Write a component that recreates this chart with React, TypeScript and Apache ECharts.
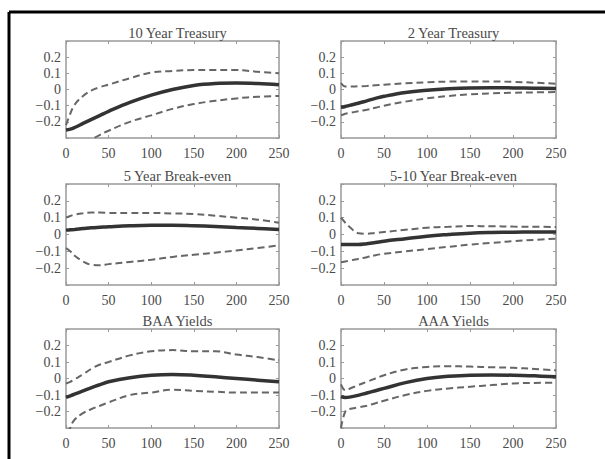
import React, { useEffect, useRef } from "react";
import * as echarts from "echarts";

const X = [0, 5, 10, 20, 30, 40, 50, 75, 100, 125, 150, 175, 200, 225, 250];
const xTicks = [0, 50, 100, 150, 200, 250];
const yTicks = [-0.2, -0.1, 0, 0.1, 0.2];

const titles = ["10 Year Treasury", "2 Year Treasury", "5 Year Break-even", "5-10 Year Break-even", "BAA Yields", "AAA Yields"];

const t10Mid = [-0.25, -0.245, -0.235, -0.21, -0.185, -0.16, -0.135, -0.08, -0.035, 0.0, 0.025, 0.037, 0.04, 0.037, 0.03];
const t10Up = [-0.22, -0.15, -0.095, -0.04, -0.005, 0.015, 0.03, 0.07, 0.105, 0.115, 0.12, 0.12, 0.12, 0.11, 0.1];
const t10Lo = [-0.5, -0.45, -0.41, -0.35, -0.31, -0.28, -0.255, -0.2, -0.16, -0.12, -0.09, -0.07, -0.055, -0.045, -0.04];

const t2Mid = [-0.11, -0.105, -0.098, -0.085, -0.07, -0.055, -0.042, -0.018, -0.004, 0.005, 0.01, 0.011, 0.01, 0.008, 0.006];
const t2Up = [0.04, 0.018, 0.018, 0.02, 0.022, 0.026, 0.03, 0.038, 0.045, 0.049, 0.05, 0.05, 0.047, 0.042, 0.036];
const t2Lo = [-0.16, -0.15, -0.145, -0.135, -0.125, -0.113, -0.1, -0.075, -0.055, -0.04, -0.03, -0.024, -0.02, -0.018, -0.016];

const be5Mid = [0.026, 0.028, 0.03, 0.035, 0.04, 0.043, 0.046, 0.052, 0.055, 0.055, 0.052, 0.048, 0.042, 0.036, 0.03];
const be5Up = [0.1, 0.11, 0.118, 0.126, 0.13, 0.13, 0.128, 0.128, 0.128, 0.125, 0.122, 0.112, 0.1, 0.088, 0.07];
const be5Lo = [-0.08, -0.1, -0.125, -0.16, -0.18, -0.183, -0.176, -0.163, -0.15, -0.133, -0.12, -0.108, -0.095, -0.08, -0.065];

const be510Mid = [-0.06, -0.06, -0.06, -0.06, -0.055, -0.048, -0.04, -0.025, -0.01, 0.0, 0.008, 0.012, 0.014, 0.015, 0.015];
const be510Up = [0.1, 0.07, 0.045, 0.008, 0.005, 0.01, 0.015, 0.028, 0.04, 0.046, 0.05, 0.049, 0.047, 0.046, 0.045];
const be510Lo = [-0.165, -0.16, -0.155, -0.145, -0.135, -0.123, -0.115, -0.1, -0.087, -0.073, -0.06, -0.05, -0.04, -0.032, -0.025];

const baaMid = [-0.115, -0.105, -0.095, -0.075, -0.055, -0.037, -0.02, 0.005, 0.02, 0.025, 0.02, 0.01, 0.0, -0.01, -0.02];
const baaUp = [-0.03, -0.02, -0.005, 0.025, 0.06, 0.085, 0.1, 0.14, 0.165, 0.172, 0.165, 0.165, 0.145, 0.13, 0.11];
const baaLo = [-0.4, -0.3, -0.25, -0.21, -0.185, -0.165, -0.145, -0.1, -0.085, -0.068, -0.075, -0.08, -0.085, -0.085, -0.085];

const aaaMid = [-0.11, -0.115, -0.113, -0.102, -0.088, -0.074, -0.06, -0.025, 0.0, 0.013, 0.02, 0.021, 0.02, 0.016, 0.01];
const aaaUp = [-0.035, -0.07, -0.062, -0.04, -0.02, 0.0, 0.02, 0.055, 0.07, 0.075, 0.072, 0.068, 0.065, 0.058, 0.05];
const aaaLo = [-0.3, -0.2, -0.185, -0.175, -0.165, -0.15, -0.135, -0.1, -0.075, -0.06, -0.05, -0.04, -0.03, -0.027, -0.025];

const panels = [
  { title: titles[0], mid: t10Mid, up: t10Up, lo: t10Lo },
  { title: titles[1], mid: t2Mid, up: t2Up, lo: t2Lo },
  { title: titles[2], mid: be5Mid, up: be5Up, lo: be5Lo },
  { title: titles[3], mid: be510Mid, up: be510Up, lo: be510Lo },
  { title: titles[4], mid: baaMid, up: baaUp, lo: baaLo },
  { title: titles[5], mid: aaaMid, up: aaaUp, lo: aaaLo },
];

const FONT = "Liberation Serif";
const TXT = "#4a4a4a";
const BOX = "#999";

const colLeft = [66, 341];
const colWidth = [213, 215];
const rowTop = [41, 184, 329];
const rowHeight = [97, 101, 99];

export default function App() {
  const ref = useRef<HTMLDivElement>(null);
  useEffect(() => {
    if (!ref.current) return;
    const chart = echarts.init(ref.current, null, { renderer: "svg" });
    const grids: any[] = [];
    const xAxes: any[] = [];
    const yAxes: any[] = [];
    const series: any[] = [];
    const titleArr: any[] = [];
    panels.forEach((p, i) => {
      const c = i % 2;
      const r = Math.floor(i / 2);
      grids.push({
        left: colLeft[c],
        top: rowTop[r],
        width: colWidth[c],
        height: rowHeight[r],
        show: true,
        borderColor: BOX,
        borderWidth: 1.5,
        backgroundColor: "#fff",
      });
      titleArr.push({
        text: p.title,
        left: colLeft[c] + colWidth[c] / 2,
        top: rowTop[r] - 21,
        textAlign: "center",
        textStyle: { fontFamily: FONT, fontSize: 14.5, fontWeight: "normal", color: TXT },
      });
      const tick = { show: true, inside: true, length: 3, lineStyle: { color: BOX } };
      const line = { show: false, onZero: false };
      xAxes.push({
        type: "value", gridIndex: i, min: 0, max: 250, interval: 50, position: "bottom",
        axisLine: line, splitLine: { show: false }, axisTick: tick,
        axisLabel: {
          fontFamily: FONT, fontSize: 14, color: TXT, margin: 8,
          formatter: (v: number) => (xTicks.includes(v) ? String(v) : ""),
        },
      });
      xAxes.push({
        type: "value", gridIndex: i, min: 0, max: 250, interval: 50, position: "top",
        axisLine: line, splitLine: { show: false }, axisTick: tick, axisLabel: { show: false },
      });
      yAxes.push({
        type: "value", gridIndex: i, min: -0.3, max: 0.3, interval: 0.1, position: "left",
        axisLine: line, splitLine: { show: false }, axisTick: tick,
        axisLabel: {
          fontFamily: FONT, fontSize: 14, color: TXT, margin: 5,
          formatter: (v: number) => {
            const rv = Math.round(v * 10) / 10;
            if (!yTicks.some((t) => Math.abs(t - rv) < 1e-9)) return "";
            if (rv === 0) return "0";
            return rv < 0 ? "\u2212" + String(Math.abs(rv)) : String(rv);
          },
        },
      });
      yAxes.push({
        type: "value", gridIndex: i, min: -0.3, max: 0.3, interval: 0.1, position: "right",
        axisLine: line, splitLine: { show: false }, axisTick: tick, axisLabel: { show: false },
      });
      const mk = (arr: number[]) => X.map((x, k) => [x, arr[k]]);
      const base = { type: "line", xAxisIndex: i * 2, yAxisIndex: i * 2, showSymbol: false, symbol: "none", smooth: 0.4, clip: true };
      series.push({ ...base, data: mk(p.up), lineStyle: { color: "#666", width: 2, type: [7, 4] } });
      series.push({ ...base, data: mk(p.lo), lineStyle: { color: "#666", width: 2, type: [7, 4] } });
      series.push({ ...base, data: mk(p.mid), lineStyle: { color: "#333", width: 3.5 } });
    });
    chart.setOption({
      animation: false,
      backgroundColor: "#fff",
      title: titleArr,
      grid: grids,
      xAxis: xAxes,
      yAxis: yAxes,
      series,
      graphic: [
        { type: "line", shape: { x1: 9, y1: 12, x2: 605, y2: 12 }, style: { stroke: "#000", lineWidth: 3 } },
        { type: "line", shape: { x1: 9, y1: 12, x2: 9, y2: 459 }, style: { stroke: "#000", lineWidth: 3 } },
      ],
    });
    return () => chart.dispose();
  }, []);
  return <div ref={ref} style={{ position: "fixed", left: 0, top: 0, width: 605, height: 459, background: "#fff" }} />;
}
